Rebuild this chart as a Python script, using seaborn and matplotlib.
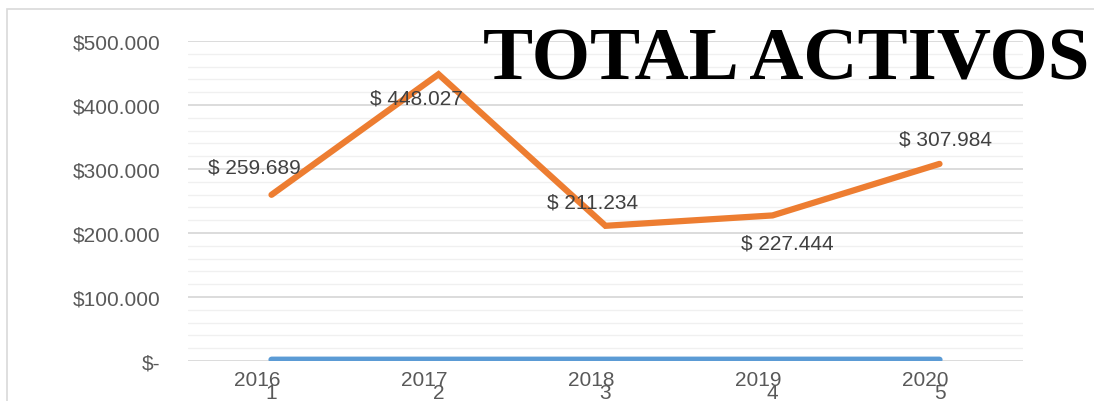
import numpy as np
import pandas as pd
import matplotlib.pyplot as plt
import seaborn as sns
from matplotlib.patches import Rectangle
from matplotlib.ticker import MultipleLocator, FuncFormatter

# data
periodo = [1, 2, 3, 4, 5]
anios = [2016, 2017, 2018, 2019, 2020]
total_activos = [259689, 448027, 211234, 227444, 307984]
etiquetas = ["$ 259.689", "$ 448.027", "$ 211.234", "$ 227.444", "$ 307.984"]

# label offsets in points (dx, dy)
offsets = [(-12, 20), (-16, -17), (-9, 17), (11, -20), (4, 18)]

sns.set_style("white")
plt.rcParams['font.family'] = ['Liberation Sans', 'DejaVu Sans']

df = pd.DataFrame({"periodo": periodo, "anio": anios, "activos": total_activos})

fig = plt.figure(figsize=(10.94, 4.02), dpi=100)
ax = fig.add_axes([188/1094, 40/402, (1023-188)/1094, 320/402])

# chart frame
fig.patches.append(Rectangle((7/1094, -0.1), 1.2, (402-10)/402 + 0.1, transform=fig.transFigure,
                             fill=False, edgecolor="#d9d9d9", linewidth=1.2, zorder=0))

sns.lineplot(data=df, x="periodo", y="anio", ax=ax, color="#5b9bd5", linewidth=4.5,
             solid_capstyle="round", zorder=3)
sns.lineplot(data=df, x="periodo", y="activos", ax=ax, color="#ed7d31", linewidth=4.5,
             solid_capstyle="round", solid_joinstyle="miter", zorder=4)

ax.set_xlim(0.5, 5.5)
ax.set_ylim(0, 500000)
ax.yaxis.set_major_locator(MultipleLocator(100000))
ax.yaxis.set_minor_locator(MultipleLocator(20000))
ax.yaxis.set_major_formatter(FuncFormatter(
    lambda v, p: "$-" if v == 0 else "$" + f"{int(v):,}".replace(",", ".")))
ax.grid(True, which="major", axis="y", color="#d9d9d9", linewidth=1.3, zorder=1)
ax.grid(True, which="minor", axis="y", color="#f0f0f0", linewidth=1.0, zorder=1)
ax.grid(False, axis="x")
for s in ax.spines.values():
    s.set_visible(False)
ax.tick_params(axis="both", which="both", length=0, labelsize=15, labelcolor="#595959")
ax.tick_params(axis="y", pad=20)
ax.tick_params(axis="x", pad=16)
ax.set_xticks(periodo)
ax.set_xticklabels([str(p) for p in periodo])
ax.set_xlabel("")
ax.set_ylabel("")

# year labels (second category row, overlapping)
for p, a in zip(periodo, anios):
    ax.annotate(str(a), (p, 0), xycoords=("data", "axes fraction"), xytext=(-10, -13),
                textcoords="offset points", ha="center", va="center", fontsize=15,
                color="#595959", annotation_clip=False)

# data labels
for p, v, t, (dx, dy) in zip(periodo, total_activos, etiquetas, offsets):
    ax.annotate(t, (p, v), xytext=(dx, dy), textcoords="offset points", ha="center",
                va="center", fontsize=15, color="#404040", zorder=5, annotation_clip=False)

fig.text(483/1094, (402-80)/402, "TOTAL ACTIVOS", family="Liberation Serif", fontweight="bold",
         fontsize=54, color="black", ha="left", va="baseline")

fig.savefig("out.png", dpi=100)
